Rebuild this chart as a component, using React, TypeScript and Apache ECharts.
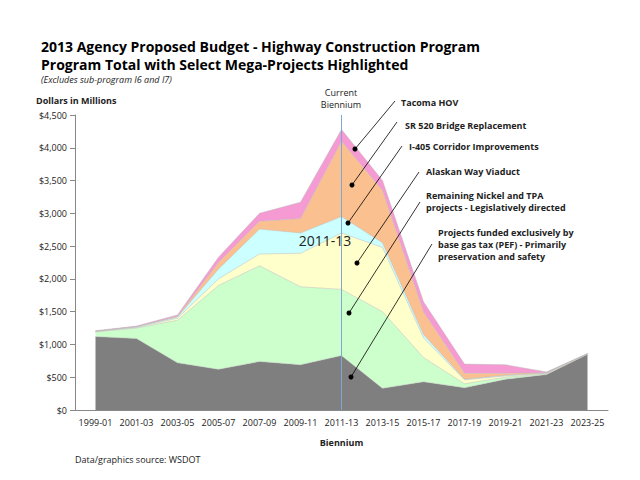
import { useEffect, useRef } from "react";
import * as echarts from "echarts";

const categories = [
  "1999-01", "2001-03", "2003-05", "2005-07", "2007-09", "2009-11", "2011-13",
  "2013-15", "2015-17", "2017-19", "2019-21", "2021-23", "2023-25",
];
const pef = [1120, 1090, 720, 620, 740, 690, 830, 330, 430, 340, 470, 540, 850];
const nickelTpa = [70, 160, 650, 1280, 1460, 1190, 1010, 1170, 370, 60, 30, 10, 0];
const alaskanWay = [10, 10, 30, 100, 180, 510, 860, 980, 300, 60, 20, 10, 10];
const i405 = [0, 10, 20, 150, 380, 310, 250, 70, 50, 10, 10, 5, 0];
const sr520 = [0, 0, 10, 100, 120, 220, 1150, 800, 350, 90, 30, 5, 0];
const tacomaHov = [10, 10, 20, 80, 120, 250, 180, 150, 150, 140, 130, 10, 0];

const FONT = "'Open Sans', sans-serif";

// annotation labels and leader lines: [textX, textY, lineX1, lineY1, dotX, dotY, text]
const notes: [number, number, number, number, number, number, string][] = [
  [401, 102, 395, 101, 355, 149, "Tacoma HOV"],
  [405, 125, 397, 122, 352, 185, "SR 520 Bridge Replacement"],
  [409, 146, 402, 146, 348, 223, "I-405 Corridor Improvements"],
  [426, 171, 419, 172, 357, 263, "Alaskan Way Viaduct"],
  [426, 201, 420, 202, 349, 313, "Remaining Nickel and TPA\nprojects - Legislatively directed"],
  [438, 244, 432, 244, 351, 377, "Projects funded exclusively by\nbase gas tax (PEF) - Primarily\npreservation and safety"],
];

export default function App() {
  const ref = useRef<HTMLDivElement>(null);

  useEffect(() => {
    if (!ref.current) return;
    const chart = echarts.init(ref.current, undefined, { renderer: "svg" });

    const area = (name: string, data: number[], color: string) => ({
      name,
      type: "line",
      stack: "total",
      data,
      symbol: "none",
      lineStyle: { width: 0.5, color: "#bbbbbb" },
      areaStyle: { color, opacity: 1 },
    });

    const graphics: any[] = [];
    for (const [tx, ty, x1, y1, dx, dy, text] of notes) {
      graphics.push(
        { type: "line", shape: { x1, y1, x2: dx, y2: dy }, style: { stroke: "#000", lineWidth: 0.8 }, z: 100 },
        { type: "circle", shape: { cx: dx, cy: dy, r: 2.5 }, style: { fill: "#000" }, z: 100 },
        {
          type: "text", x: tx, y: ty, z: 100,
          style: { text, font: `bold 9px ${FONT}`, fill: "#222", verticalAlign: "middle", lineHeight: 12 },
        },
      );
    }
    graphics.push(
      { type: "text", x: 341, y: 98, style: { text: "Current\nBiennium", font: `9px ${FONT}`, fill: "#222", align: "center", verticalAlign: "middle", lineHeight: 12 } },
      { type: "text", x: 325, y: 240, z: 100, style: { text: "2011-13", font: `14px ${FONT}`, fill: "#222", align: "center", verticalAlign: "middle" } },
      { type: "text", x: 75, y: 459, style: { text: "Data/graphics source: WSDOT", font: `9px ${FONT}`, fill: "#222", verticalAlign: "middle" } },
      { type: "text", x: 36, y: 100, style: { text: "Dollars in Millions", font: `bold 9px ${FONT}`, fill: "#222", verticalAlign: "middle" } },
    );

    chart.setOption({
      animation: false,
      title: {
        text: "2013 Agency Proposed Budget - Highway Construction Program\nProgram Total with Select Mega-Projects Highlighted",
        subtext: "(Excludes sub-program I6 and I7)",
        left: 36,
        top: 32,
        itemGap: 2,
        textStyle: { fontFamily: FONT, fontSize: 14, fontWeight: "bold", color: "#000", lineHeight: 18 },
        subtextStyle: { fontFamily: FONT, fontSize: 9, fontStyle: "italic", color: "#222" },
      },
      grid: { left: 75, right: 32, top: 115, bottom: 70 },
      xAxis: {
        type: "category",
        data: categories,
        boundaryGap: true,
        name: "Biennium",
        nameLocation: "middle",
        nameGap: 28,
        nameTextStyle: { fontFamily: FONT, fontSize: 9, fontWeight: "bold", color: "#222" },
        axisLine: { lineStyle: { color: "#888" } },
        axisTick: { alignWithLabel: false, lineStyle: { color: "#888" } },
        axisLabel: { interval: 0, fontFamily: FONT, fontSize: 9, color: "#222" },
      },
      yAxis: {
        type: "value",
        min: 0,
        max: 4500,
        interval: 500,
        splitLine: { show: false },
        axisLine: { show: true, lineStyle: { color: "#888" } },
        axisTick: { show: true, lineStyle: { color: "#888" } },
        axisLabel: {
          fontFamily: FONT, fontSize: 9, color: "#222",
          formatter: (v: number) => "$" + v.toLocaleString("en-US"),
        },
      },
      series: [
        area("PEF", pef, "#7f7f7f"),
        area("Remaining Nickel and TPA", nickelTpa, "#ccffcc"),
        area("Alaskan Way Viaduct", alaskanWay, "#ffffcc"),
        area("I-405 Corridor Improvements", i405, "#ccffff"),
        area("SR 520 Bridge Replacement", sr520, "#fac090"),
        {
          ...area("Tacoma HOV", tacomaHov, "#f59ad2"),
          markLine: {
            symbol: "none",
            silent: true,
            label: { show: false },
            lineStyle: { color: "#7ea6d6", type: "solid", width: 1 },
            data: [[{ coord: ["2011-13", 0] }, { coord: ["2011-13", 4500] }]],
          },
        },
      ],
      graphic: graphics,
    });

    return () => chart.dispose();
  }, []);

  return <div ref={ref} style={{ position: "absolute", left: 0, top: 0, width: 640, height: 480 }} />;
}
